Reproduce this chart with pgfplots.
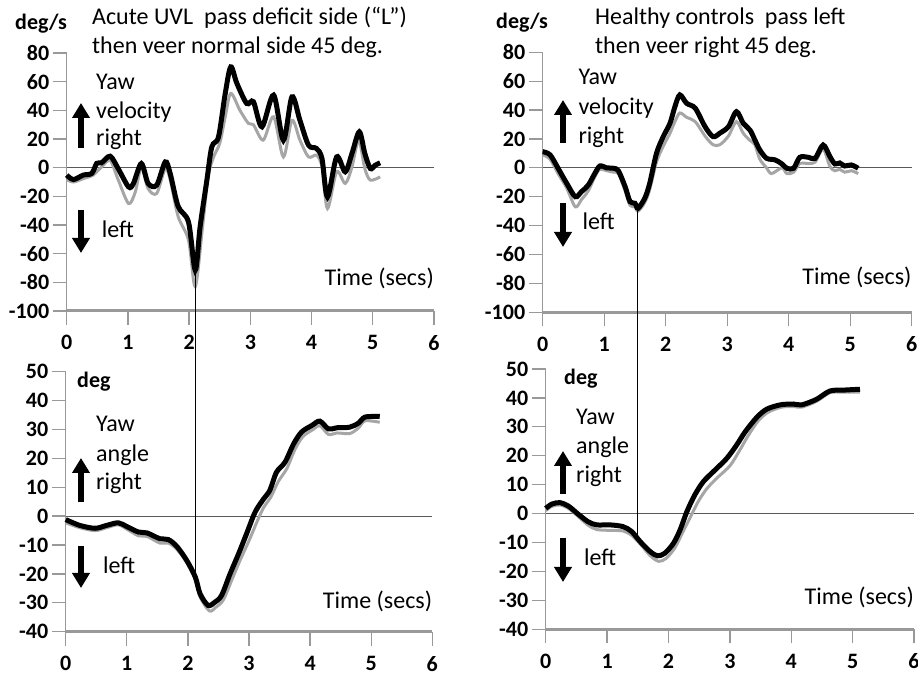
\documentclass[border=0pt]{standalone}
\usepackage{fontspec}
\setmainfont{Carlito}
\usepackage{pgfplots}
\pgfplotsset{compat=1.18}
\usetikzlibrary{arrows.meta}

\definecolor{curvegray}{HTML}{A6A6A6}
\definecolor{axgray}{HTML}{999999}
\definecolor{zerogray}{HTML}{595959}

\newcommand\tx{\fontsize{24bp}{28bp}\selectfont}
\newcommand\bx{\fontsize{22bp}{24bp}\selectfont\bfseries}

\pgfplotsset{
 panel/.style={
  scale only axis, anchor=south west, clip=false,
  xmin=0,xmax=6, axis x line*=bottom, axis y line*=left,
  xtick={0,1,2,3,4,5,6}, xticklabels={0,1,2,3,4,5,6},
  tick align=outside, major tick length=14bp,
  tick style={axgray, line width=1.3bp},
  x axis line style={axgray, line width=3bp},
  y axis line style={axgray, line width=1.3bp},
  tick label style={font=\bx, black},
  xticklabel style={yshift=-7bp},
 },
 vel/.style={panel, ymin=-100,ymax=80, ytick={-100,-80,-60,-40,-20,0,20,40,60,80}, yticklabels={-100,-80,-60,-40,-20,0,20,40,60,80}},
 ang/.style={panel, ymin=-40, ymax=50, ytick={-40,-30,-20,-10,0,10,20,30,40,50}, yticklabels={-40,-30,-20,-10,0,10,20,30,40,50}},
 blk/.style={black, line width=5bp, smooth, tension=0.5},
 gry/.style={curvegray, line width=3bp, smooth, tension=0.5},
 zer/.style={zerogray, line width=1bp},
}

\begin{document}
\begin{tikzpicture}
\useasboundingbox (0,0) rectangle (918bp,675bp);

% ---------------- top left ----------------
\begin{axis}[vel, at={(66.7bp,364bp)}, width=367.3bp, height=258bp]
\addplot[zer] coordinates {(0,0) (6,0)};
\addplot[gry] coordinates {(0,-8.3) (0.11,-10) (0.27,-7.7) (0.43,-5.2) (0.57,0.5) (0.71,5) (0.84,-8.3) (1.01,-25) (1.12,-17) (1.22,0.5) (1.33,-14.6) (1.47,-18) (1.61,-0.6) (1.69,-8.3) (1.82,-34) (1.99,-50.6) (2.10,-83) (2.22,-41) (2.31,-6.4) (2.40,7.5) (2.50,17) (2.59,35.5) (2.68,51.8) (2.83,40) (2.97,30.8) (3.05,30) (3.21,19.2) (3.38,35.5) (3.54,7.5) (3.68,33) (3.81,19.2) (3.95,7.5) (4.08,8.7) (4.17,0.5) (4.26,-28.5) (4.41,-2.9) (4.55,-11) (4.66,0.5) (4.77,19.2) (4.87,-0.6) (4.96,-8.7) (5.12,-6.4)};
\addplot[blk] coordinates {(0,-5.2) (0.11,-8.3) (0.27,-5.2) (0.41,-4) (0.49,3) (0.57,3.4) (0.71,8) (0.84,-0.6) (1.01,-13.4) (1.09,-11) (1.22,2.9) (1.33,-11) (1.47,-12.2) (1.61,4) (1.69,-4) (1.82,-27) (1.99,-38) (2.10,-71.5) (2.18,-41) (2.29,-8.7) (2.37,14.5) (2.48,21.5) (2.59,51.8) (2.68,70.3) (2.78,58.8) (2.94,44.8) (3.05,46) (3.19,28.5) (3.38,50.6) (3.54,19.2) (3.68,49.4) (3.81,33) (3.95,15.7) (4.08,13.4) (4.17,6.4) (4.26,-20.4) (4.41,7.5) (4.55,-2.9) (4.66,9.9) (4.78,25) (4.87,9.9) (4.96,-0.6) (5.04,1.7) (5.12,3.4)};
\coordinate (vla) at (axis cs:2.1,-72);
\end{axis}

% ---------------- top right ----------------
\begin{axis}[vel, at={(542.7bp,362.7bp)}, width=369bp, height=260bp]
\addplot[zer] coordinates {(0,0) (6,0)};
\addplot[gry] coordinates {(0,9) (0.12,6) (0.25,-4) (0.39,-14) (0.53,-27) (0.63,-22) (0.74,-16) (0.85,-6) (0.93,-1) (1.04,-2) (1.15,-3) (1.23,-4) (1.34,-16) (1.42,-26) (1.50,-27) (1.55,-30) (1.66,-24) (1.74,-15) (1.85,4) (1.96,15) (2.07,24) (2.15,32) (2.23,38) (2.34,35) (2.48,32) (2.64,22) (2.77,16) (2.88,16) (3.02,22) (3.15,32) (3.26,24) (3.37,19) (3.45,16) (3.53,6) (3.64,0) (3.72,-4) (3.89,0) (3.97,-4) (4.08,-3) (4.18,3) (4.32,3) (4.43,4) (4.56,13) (4.67,1) (4.75,-2) (4.83,-1) (4.91,-3) (5.02,-2) (5.13,-4)};
\addplot[blk] coordinates {(0,11.2) (0.12,9) (0.25,-0.3) (0.39,-10.7) (0.53,-20) (0.63,-16.5) (0.74,-12) (0.85,-3.7) (0.93,1.3) (1.04,0) (1.15,-0.3) (1.23,-2) (1.34,-13) (1.42,-23.4) (1.50,-24.5) (1.55,-28) (1.66,-21) (1.74,-10.7) (1.85,10) (1.96,21.6) (2.07,30.9) (2.15,42.4) (2.23,50.5) (2.34,44.7) (2.48,41.3) (2.64,28.5) (2.77,21.6) (2.88,24) (3.02,28.5) (3.15,38.9) (3.26,30.9) (3.37,26.2) (3.45,19.3) (3.53,12.4) (3.64,6.6) (3.78,5.5) (3.89,2.7) (3.97,-0.3) (4.08,-0.3) (4.18,7.3) (4.32,7.3) (4.43,6.6) (4.56,15.8) (4.67,7.8) (4.75,2.7) (4.83,3.4) (4.91,1.3) (5.02,2) (5.13,-0.3)};
\coordinate (vrb) at (axis cs:1.545,-28);
\end{axis}

% ---------------- bottom left ----------------
\begin{axis}[ang, at={(65.7bp,43.3bp)}, width=366.6bp, height=260bp]
\addplot[zer] coordinates {(0,0) (6,0)};
\addplot[gry] coordinates {(0,-2.3) (0.23,-4) (0.48,-5) (0.67,-4) (0.86,-3) (1.0,-4.5) (1.19,-6.8) (1.33,-7) (1.54,-9.3) (1.68,-9.3) (1.82,-11.5) (1.98,-16) (2.12,-22) (2.2,-28) (2.35,-32.8) (2.46,-31.5) (2.58,-29) (2.72,-22) (2.86,-15) (3.0,-8.5) (3.14,-1.5) (3.24,3) (3.36,6.7) (3.48,12) (3.62,16.5) (3.75,23) (3.88,27.5) (4.05,30) (4.16,31.3) (4.3,28.3) (4.44,28.8) (4.65,28.6) (4.79,30.5) (4.9,33) (5.14,32.5)};
\addplot[blk] coordinates {(0,-1.2) (0.23,-3.2) (0.48,-4.2) (0.67,-3.2) (0.86,-2.3) (1.0,-3.6) (1.19,-5.5) (1.33,-5.8) (1.54,-7.8) (1.68,-8.1) (1.82,-10.5) (1.98,-15.3) (2.12,-21) (2.2,-26.9) (2.33,-30.9) (2.44,-29.8) (2.55,-27.5) (2.69,-20) (2.83,-13) (2.96,-6.1) (3.1,1.4) (3.24,6) (3.34,8.9) (3.45,15.2) (3.59,18.7) (3.73,25) (3.86,29.1) (4.03,31.4) (4.16,32.9) (4.3,30.2) (4.44,30.6) (4.65,30.8) (4.79,32.2) (4.9,34.3) (5.14,34.5)};
\coordinate (vlb) at (axis cs:2.1,-21);
\end{axis}

% ---------------- bottom right ----------------
\begin{axis}[ang, at={(545.7bp,45.7bp)}, width=368.3bp, height=260.3bp]
\addplot[zer] coordinates {(0,0) (6,0)};
\addplot[gry] coordinates {(0,1) (0.1,2.5) (0.23,3) (0.37,1.8) (0.53,-1) (0.69,-4) (0.83,-5.5) (1.05,-5.8) (1.26,-6) (1.4,-7.5) (1.54,-10.5) (1.7,-14.5) (1.84,-16.5) (1.96,-15.5) (2.1,-12) (2.22,-7) (2.35,-1.5) (2.48,4) (2.62,8.5) (2.8,12.5) (3.0,16.5) (3.15,21.5) (3.3,27) (3.46,32) (3.62,35) (3.84,36.8) (4.05,37) (4.17,36.8) (4.41,38.8) (4.63,41.8) (4.85,42) (5.12,42)};
\addplot[blk] coordinates {(0,1.8) (0.1,3.3) (0.23,3.8) (0.37,2.6) (0.53,-0.2) (0.69,-2.8) (0.83,-3.9) (1.05,-3.9) (1.26,-4.5) (1.4,-6.2) (1.54,-9.7) (1.7,-13.1) (1.82,-14.6) (1.94,-13.7) (2.08,-10.3) (2.19,-5.6) (2.3,0.7) (2.43,6.5) (2.57,11.1) (2.76,15.1) (2.95,19.1) (3.11,23.7) (3.25,28.3) (3.44,33.3) (3.6,36.1) (3.82,37.6) (4.03,37.9) (4.17,37.6) (4.41,39.5) (4.63,42.4) (4.85,42.7) (5.12,43)};
\coordinate (vrc) at (axis cs:1.5,-8);
\end{axis}

% vertical connecting lines
\draw[black, line width=1bp] (vla) -- (vla |- vlb);
\draw[black, line width=1bp] (vrb) -- (vrb |- vrc);

\tikzset{t/.style={anchor=base west, inner sep=0pt, font=\tx},
         te/.style={anchor=base east, inner sep=0pt, font=\tx},
         b/.style={anchor=base west, inner sep=0pt, font=\bx},
         arr/.style={line width=6.5bp, -{Triangle[length=15bp,width=17bp]}}}
% ---------- texts: top left ----------
\node[b] at (15bp,645.7bp) {deg/s};
\node[t] at (92bp,650bp) {Acute UVL};
\node[t] at (204bp,650bp) {pass deficit side};
\node[te] at (407bp,650bp) {(“L”)};
\node[t] at (92bp,621.7bp) {then veer normal side 45 deg.};
\node[t] at (96bp,585.7bp) {Yaw};
\node[t] at (96bp,556.7bp) {velocity};
\node[t] at (96bp,529bp) {right};
\node[t] at (101.7bp,437bp) {left};
\node[te] at (434bp,389.3bp) {Time (secs)};
\draw[arr] (81bp,527bp) -- (81bp,572bp);
\draw[arr] (81bp,465bp) -- (81bp,422bp);

% ---------- texts: top right ----------
\node[b] at (496bp,646.7bp) {deg/s};
\node[t] at (595bp,650bp) {Healthy controls\ \ pass left};
\node[t] at (595bp,621.7bp) {then veer right 45 deg.};
\node[t] at (578.3bp,590bp) {Yaw};
\node[t] at (578.3bp,560bp) {velocity};
\node[t] at (578.3bp,531.7bp) {right};
\node[t] at (582.3bp,445bp) {left};
\node[te] at (911.7bp,390bp) {Time (secs)};
\draw[arr] (563bp,532bp) -- (563bp,575bp);
\draw[arr] (563bp,472bp) -- (563bp,428bp);

% ---------- texts: bottom left ----------
\node[b] at (77bp,287.7bp) {deg};
\node[t] at (96bp,243.3bp) {Yaw};
\node[t] at (96bp,213.3bp) {angle};
\node[t] at (96bp,185bp) {right};
\node[t] at (103bp,101.7bp) {left};
\node[te] at (432.3bp,66.7bp) {Time (secs)};
\draw[arr] (81bp,173bp) -- (81bp,217bp);
\draw[arr] (81bp,129bp) -- (81bp,87bp);

% ---------- texts: bottom right ----------
\node[b] at (564bp,290bp) {deg};
\node[t] at (576bp,250bp) {Yaw};
\node[t] at (576bp,221bp) {angle};
\node[t] at (576bp,192.3bp) {right};
\node[t] at (584bp,109bp) {left};
\node[te] at (914bp,70bp) {Time (secs)};
\draw[arr] (563bp,181bp) -- (563bp,224bp);
\draw[arr] (563bp,137bp) -- (563bp,93bp);
\end{tikzpicture}
\end{document}
